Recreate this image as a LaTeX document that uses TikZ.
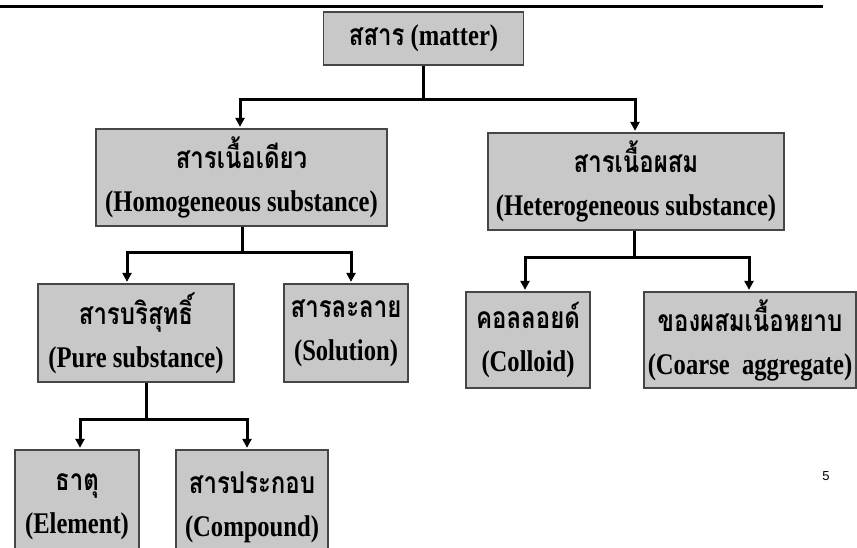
\documentclass[tikz,border=0pt]{standalone}
\usepackage{fontspec}
\usepackage{graphicx}
\usetikzlibrary{arrows.meta,calc}
\setmainfont{Liberation Serif}[FakeStretch=0.82]
\newfontfamily\thaifont[Script=Thai,FakeStretch=0.8]{Loma}
\newfontfamily\pagenumfont{Liberation Sans}
\definecolor{boxgray}{RGB}{200,200,200}
\definecolor{boxedge}{RGB}{70,70,70}
\tikzset{
  box/.style={draw=boxedge, line width=1.3pt, fill=boxgray, rectangle, inner sep=0pt,
    align=center, font=\bfseries\fontsize{30}{43}\selectfont},
  ln/.style={line width=3pt, black},
  arr/.style={line width=3pt, black, -{Triangle[width=9pt,length=9pt]}, shorten >=1.5pt},
}
\newcommand{\thtxt}[1]{{\thaifont\fontsize{30}{43}\selectfont #1}}
\begin{document}
\begin{tikzpicture}[x=1pt,y=-1pt]
\useasboundingbox (0,0) rectangle (857,547);
\clip (0,0) rectangle (857,547);
\fill[white] (0,0) rectangle (857,547);
% top rule
\draw[line width=3pt] (0,6.5) -- (823,6.5);

% nodes
\node[box, minimum width=200, minimum height=53] (matter) at (423.5,38.5) {\thtxt{สสาร} (matter)};
\node[box, minimum width=291, minimum height=97] (homo) at (241.5,177.5) {\thtxt{สารเนื้อเดียว}\\(Homogeneous substance)};
\node[box, minimum width=296, minimum height=97] (hetero) at (636,181.5) {\thtxt{สารเนื้อผสม}\\(Heterogeneous substance)};
\node[box, minimum width=196, minimum height=98] (pure) at (136,333) {\thtxt{สารบริสุทธิ์}\\(Pure substance)};
\node[box, minimum width=124, minimum height=98] (solution) at (346,333) {\thtxt{สารละลาย}\\(Solution)};
\node[box, minimum width=124, minimum height=96] (colloid) at (528,340) {\thtxt{คอลลอยด์}\\(Colloid)};
\node[box, minimum width=212, minimum height=96] (coarse) at (750,340) {\thtxt{ของผสมเนื้อหยาบ}\\(Coarse\ \ aggregate)};
\node[box, minimum width=124, minimum height=114] (element) at (77,507) {\thtxt{ธาตุ}\\(Element)};
\node[box, minimum width=152, minimum height=114] (compound) at (252,507) {\thtxt{สารประกอบ}\\(Compound)};
\node[font=\pagenumfont\fontsize{13}{15}\selectfont] (pnum) at (826,476) {5};

% junctions
\coordinate (j1) at (423.5,99);
\coordinate (j2) at (242,252);
\coordinate (j3) at (146,419);
\coordinate (j4) at (634,257);

% connectors
\draw[ln] (matter.south) -- (j1);
\draw[arr] (j1) -| ([xshift=-1.5pt]homo.north);
\draw[arr] (j1) -| ([xshift=-1pt]hetero.north);

\draw[ln] (homo.south -| j2) -- (j2);
\draw[arr] (j2) -| ([xshift=-9pt]pure.north);
\draw[arr] (j2) -| ([xshift=5pt]solution.north);

\draw[ln] (pure.south -| j3) -- (j3);
\draw[arr] (j3) -| ([xshift=3pt]element.north);
\draw[arr] (j3) -| ([xshift=-5pt]compound.north);

\draw[ln] (hetero.south -| j4) -- (j4);
\draw[arr] (j4) -| ([xshift=-3pt]colloid.north);
\draw[arr] (j4) -| ([xshift=-1pt]coarse.north);
\end{tikzpicture}
\end{document}
